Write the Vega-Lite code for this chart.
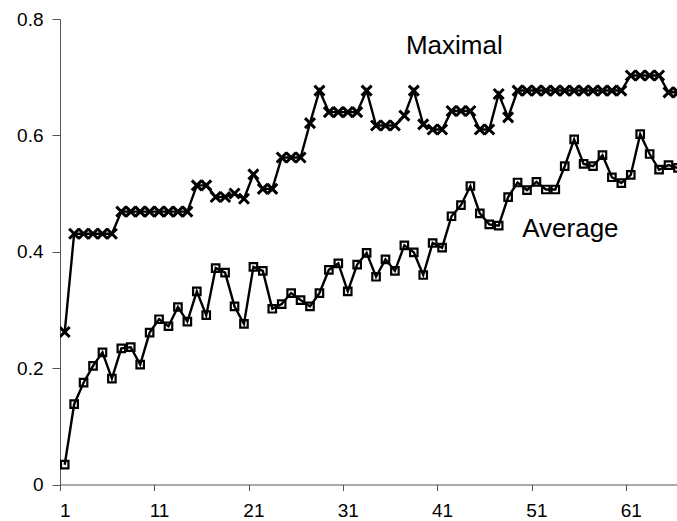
{
  "$schema": "https://vega.github.io/schema/vega-lite/v6.json",
  "width": 617,
  "height": 465.5,
  "autosize": {"type": "none"},
  "padding": {"left": 60, "top": 19, "right": 0, "bottom": 36.5},
  "background": "white",
  "config": {
    "view": {"stroke": null},
    "font": "Liberation Sans",
    "axis": {"grid": false, "title": null, "domainColor": "#555555", "tickColor": "#555555", "labelColor": "#000000", "labelFont": "Liberation Sans", "labelFontSize": 19, "domainWidth": 1, "tickWidth": 1}
  },
  "datasets": {
    "maxv": [
      {"x":1,"v":0.262},{"x":2,"v":0.431},{"x":3,"v":0.431},{"x":4,"v":0.431},{"x":5,"v":0.431},{"x":6,"v":0.431},
      {"x":7,"v":0.469},{"x":8,"v":0.469},{"x":9,"v":0.469},{"x":10,"v":0.469},{"x":11,"v":0.469},{"x":12,"v":0.469},{"x":13,"v":0.469},{"x":14,"v":0.469},
      {"x":15,"v":0.514},{"x":16,"v":0.514},{"x":17,"v":0.494},{"x":18,"v":0.494},{"x":19,"v":0.500},{"x":20,"v":0.491},
      {"x":21,"v":0.533},{"x":22,"v":0.508},{"x":23,"v":0.508},{"x":24,"v":0.562},{"x":25,"v":0.562},{"x":26,"v":0.562},
      {"x":27,"v":0.621},{"x":28,"v":0.677},{"x":29,"v":0.640},{"x":30,"v":0.640},{"x":31,"v":0.640},{"x":32,"v":0.640},
      {"x":33,"v":0.677},{"x":34,"v":0.617},{"x":35,"v":0.617},{"x":36,"v":0.617},{"x":37,"v":0.634},{"x":38,"v":0.677},
      {"x":39,"v":0.619},{"x":40,"v":0.610},{"x":41,"v":0.610},{"x":42,"v":0.642},{"x":43,"v":0.642},{"x":44,"v":0.642},
      {"x":45,"v":0.610},{"x":46,"v":0.610},{"x":47,"v":0.671},{"x":48,"v":0.631},
      {"x":49,"v":0.677},{"x":50,"v":0.677},{"x":51,"v":0.677},{"x":52,"v":0.677},{"x":53,"v":0.677},{"x":54,"v":0.677},
      {"x":55,"v":0.677},{"x":56,"v":0.677},{"x":57,"v":0.677},{"x":58,"v":0.677},{"x":59,"v":0.677},{"x":60,"v":0.677},
      {"x":61,"v":0.703},{"x":62,"v":0.703},{"x":63,"v":0.703},{"x":64,"v":0.703},{"x":65,"v":0.674},{"x":66,"v":0.674}
    ],
    "avgv": [
      {"x":1,"v":0.034},{"x":2,"v":0.138},{"x":3,"v":0.175},{"x":4,"v":0.204},{"x":5,"v":0.227},{"x":6,"v":0.182},
      {"x":7,"v":0.234},{"x":8,"v":0.236},{"x":9,"v":0.206},{"x":10,"v":0.261},{"x":11,"v":0.284},{"x":12,"v":0.272},
      {"x":13,"v":0.305},{"x":14,"v":0.280},{"x":15,"v":0.332},{"x":16,"v":0.291},{"x":17,"v":0.372},{"x":18,"v":0.364},
      {"x":19,"v":0.306},{"x":20,"v":0.276},{"x":21,"v":0.374},{"x":22,"v":0.367},{"x":23,"v":0.302},{"x":24,"v":0.310},
      {"x":25,"v":0.329},{"x":26,"v":0.317},{"x":27,"v":0.306},{"x":28,"v":0.329},{"x":29,"v":0.369},{"x":30,"v":0.380},
      {"x":31,"v":0.332},{"x":32,"v":0.378},{"x":33,"v":0.398},{"x":34,"v":0.357},{"x":35,"v":0.387},{"x":36,"v":0.367},
      {"x":37,"v":0.411},{"x":38,"v":0.399},{"x":39,"v":0.360},{"x":40,"v":0.415},{"x":41,"v":0.407},{"x":42,"v":0.461},
      {"x":43,"v":0.480},{"x":44,"v":0.513},{"x":45,"v":0.466},{"x":46,"v":0.447},{"x":47,"v":0.445},{"x":48,"v":0.494},
      {"x":49,"v":0.519},{"x":50,"v":0.506},{"x":51,"v":0.520},{"x":52,"v":0.507},{"x":53,"v":0.507},{"x":54,"v":0.547},
      {"x":55,"v":0.593},{"x":56,"v":0.551},{"x":57,"v":0.547},{"x":58,"v":0.566},{"x":59,"v":0.528},{"x":60,"v":0.518},
      {"x":61,"v":0.532},{"x":62,"v":0.602},{"x":63,"v":0.568},{"x":64,"v":0.541},{"x":65,"v":0.549},{"x":66,"v":0.544}
    ],
    "labels": [
      {"x":42.3,"v":0.740,"t":"Maximal"},
      {"x":54.6,"v":0.4247,"t":"Average"}
    ]
  },
  "layer": [
    {
      "data": {"name": "maxv"},
      "mark": {"type": "line", "color": "black", "strokeWidth": 2.4, "clip": true},
      "encoding": {
        "x": {"field": "x", "type": "quantitative", "scale": {"domain": [0.5, 65.9], "nice": false, "zero": false},
          "axis": {"values": [1,11,21,31,41,51,61], "tickOffset": -4.7, "labelOffset": 4.7, "tickSize": 6, "labelPadding": 11, "labelFlush": false, "labelOverlap": false}},
        "y": {"field": "v", "type": "quantitative", "scale": {"domain": [0, 0.8], "nice": false},
          "axis": {"values": [0,0.2,0.4,0.6,0.8], "tickSize": 8, "labelPadding": 9, "labelExpr": "datum.value == 0 ? '0' : format(datum.value, '.1f')"}}
      }
    },
    {
      "data": {"name": "maxv"},
      "mark": {"type": "point", "shape": "M-1,-1L1,1M1,-1L-1,1", "size": 100, "filled": false, "stroke": "black", "strokeWidth": 3, "opacity": 1, "clip": true},
      "encoding": {
        "x": {"field": "x", "type": "quantitative"},
        "y": {"field": "v", "type": "quantitative"}
      }
    },
    {
      "data": {"name": "avgv"},
      "mark": {"type": "line", "color": "black", "strokeWidth": 2.4, "clip": true},
      "encoding": {
        "x": {"field": "x", "type": "quantitative"},
        "y": {"field": "v", "type": "quantitative"}
      }
    },
    {
      "data": {"name": "avgv"},
      "mark": {"type": "point", "shape": "square", "size": 56, "filled": false, "stroke": "black", "strokeWidth": 2.2, "opacity": 1, "clip": true},
      "encoding": {
        "x": {"field": "x", "type": "quantitative"},
        "y": {"field": "v", "type": "quantitative"}
      }
    },
    {
      "data": {"name": "labels"},
      "mark": {"type": "text", "font": "Liberation Sans", "fontSize": 26, "align": "center", "baseline": "alphabetic", "color": "black"},
      "encoding": {
        "x": {"field": "x", "type": "quantitative"},
        "y": {"field": "v", "type": "quantitative"},
        "text": {"field": "t"}
      }
    }
  ]
}
